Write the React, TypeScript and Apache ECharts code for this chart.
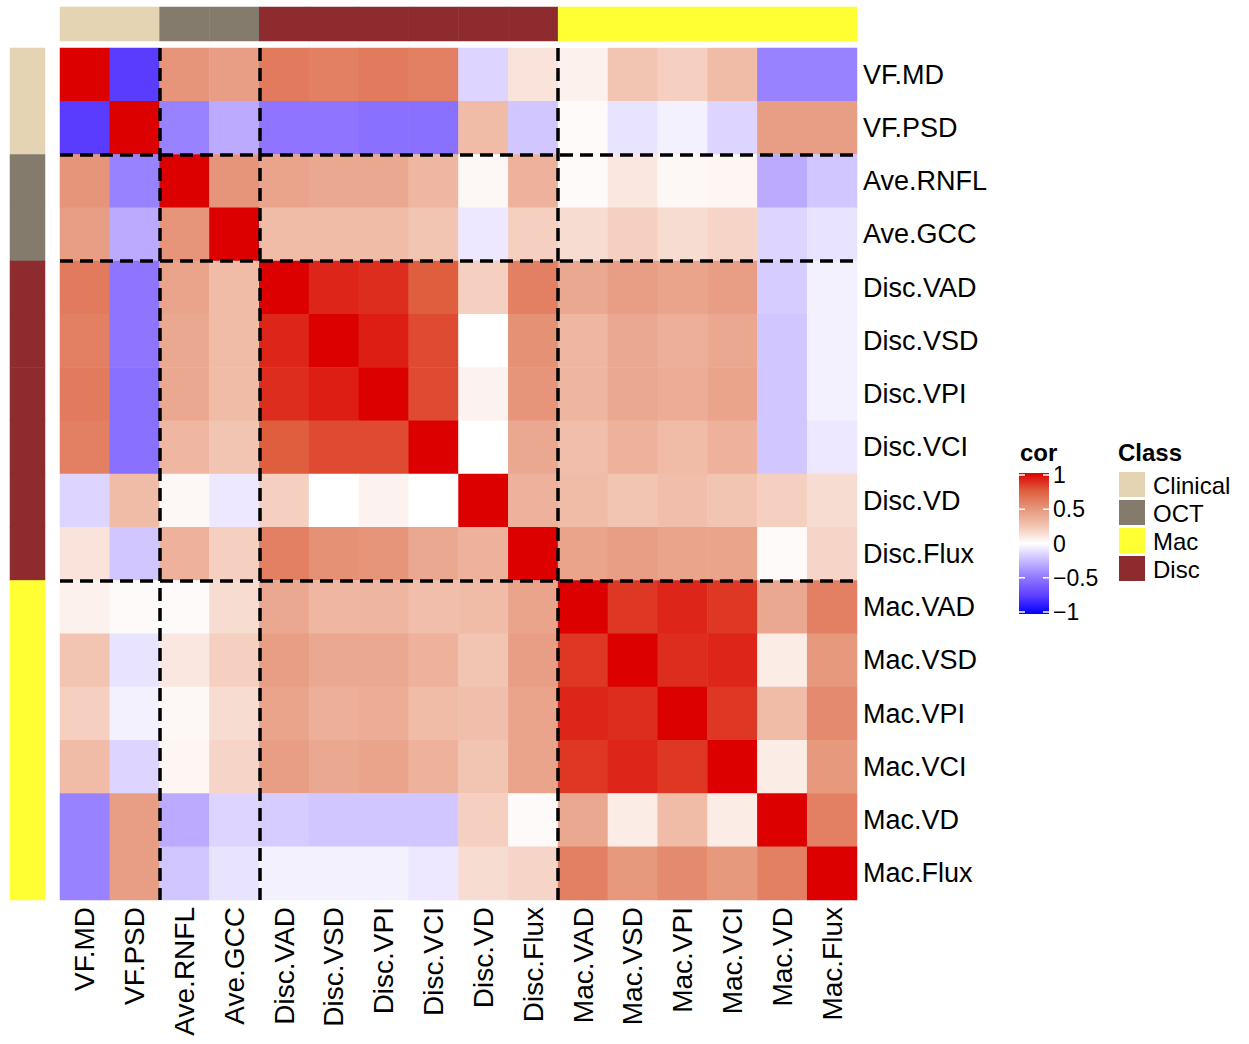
import React, { useEffect, useRef } from 'react';
import * as echarts from 'echarts';

// ---------- data ----------
const variables = [
  'VF.MD', 'VF.PSD', 'Ave.RNFL', 'Ave.GCC',
  'Disc.VAD', 'Disc.VSD', 'Disc.VPI', 'Disc.VCI', 'Disc.VD', 'Disc.Flux',
  'Mac.VAD', 'Mac.VSD', 'Mac.VPI', 'Mac.VCI', 'Mac.VD', 'Mac.Flux',
];
const variableClass = [
  'Clinical', 'Clinical', 'OCT', 'OCT',
  'Disc', 'Disc', 'Disc', 'Disc', 'Disc', 'Disc',
  'Mac', 'Mac', 'Mac', 'Mac', 'Mac', 'Mac',
];
const classNames = ['Clinical', 'OCT', 'Mac', 'Disc'];
const classColors = ['#E4D4B4', '#857B6C', '#FFFF33', '#8E2B2E'];

const corStops = [-1, -0.75, -0.5, -0.25, 0, 0.25, 0.5, 0.75, 1];
const corColors = ['#0000FF', '#5A3CFF', '#8E74FF', '#C6B8FF', '#FFFFFF', '#F2C4B2', '#E6957A', '#DE5E3E', '#DD0000'];
const corTicks = [1, 0.5, 0, -0.5, -1];
const groupBoundaries = [2, 4, 10];

const rowVFMD = [1, -0.75, 0.5, 0.45, 0.62, 0.6, 0.62, 0.6, -0.15, 0.12, 0.06, 0.25, 0.2, 0.3, -0.45, -0.45];
const rowVFPSD = [-0.75, 1, -0.45, -0.3, -0.5, -0.5, -0.52, -0.52, 0.3, -0.2, 0.02, -0.1, -0.05, -0.15, 0.45, 0.45];
const rowAveRNFL = [0.5, -0.45, 1, 0.5, 0.42, 0.4, 0.4, 0.32, 0.03, 0.35, 0.02, 0.1, 0.03, 0.04, -0.3, -0.2];
const rowAveGCC = [0.45, -0.3, 0.5, 1, 0.3, 0.3, 0.3, 0.25, -0.08, 0.2, 0.15, 0.2, 0.15, 0.18, -0.15, -0.1];
const rowDiscVAD = [0.62, -0.5, 0.42, 0.3, 1, 0.9, 0.88, 0.75, 0.2, 0.6, 0.4, 0.45, 0.42, 0.45, -0.18, -0.05];
const rowDiscVSD = [0.6, -0.5, 0.4, 0.3, 0.9, 1, 0.92, 0.8, 0.0, 0.52, 0.32, 0.4, 0.36, 0.4, -0.2, -0.05];
const rowDiscVPI = [0.62, -0.52, 0.4, 0.3, 0.88, 0.92, 1, 0.8, 0.05, 0.5, 0.33, 0.4, 0.38, 0.42, -0.2, -0.05];
const rowDiscVCI = [0.6, -0.52, 0.32, 0.25, 0.75, 0.8, 0.8, 1, 0.0, 0.4, 0.28, 0.35, 0.3, 0.35, -0.2, -0.08];
const rowDiscVD = [-0.15, 0.3, 0.03, -0.08, 0.2, 0.0, 0.05, 0.0, 1, 0.35, 0.3, 0.25, 0.28, 0.25, 0.2, 0.15];
const rowDiscFlux = [0.12, -0.2, 0.35, 0.2, 0.6, 0.52, 0.5, 0.4, 0.35, 1, 0.42, 0.45, 0.42, 0.42, 0.02, 0.18];
const rowMacVAD = [0.06, 0.02, 0.02, 0.15, 0.4, 0.32, 0.33, 0.28, 0.3, 0.42, 1, 0.85, 0.9, 0.85, 0.4, 0.6];
const rowMacVSD = [0.25, -0.1, 0.1, 0.2, 0.45, 0.4, 0.4, 0.35, 0.25, 0.45, 0.85, 1, 0.88, 0.9, 0.08, 0.48];
const rowMacVPI = [0.2, -0.05, 0.03, 0.15, 0.42, 0.36, 0.38, 0.3, 0.28, 0.42, 0.9, 0.88, 1, 0.85, 0.3, 0.55];
const rowMacVCI = [0.3, -0.15, 0.04, 0.18, 0.45, 0.4, 0.42, 0.35, 0.25, 0.42, 0.85, 0.9, 0.85, 1, 0.08, 0.48];
const rowMacVD = [-0.45, 0.45, -0.3, -0.15, -0.18, -0.2, -0.2, -0.2, 0.2, 0.02, 0.4, 0.08, 0.3, 0.08, 1, 0.6];
const rowMacFlux = [-0.45, 0.45, -0.2, -0.1, -0.05, -0.05, -0.05, -0.08, 0.15, 0.18, 0.6, 0.48, 0.55, 0.48, 0.6, 1];

const corRows = [
  rowVFMD, rowVFPSD, rowAveRNFL, rowAveGCC,
  rowDiscVAD, rowDiscVSD, rowDiscVPI, rowDiscVCI, rowDiscVD, rowDiscFlux,
  rowMacVAD, rowMacVSD, rowMacVPI, rowMacVCI, rowMacVD, rowMacFlux,
];

const FONT = "'Liberation Sans', Arial, Helvetica, sans-serif";

export default function App() {
  const ref = useRef<HTMLDivElement>(null);

  useEffect(() => {
    document.body.style.margin = '0';
    const chart = echarts.init(ref.current!, null, { renderer: 'svg' });

    const n = variables.length;
    const heatData: number[][] = [];
    corRows.forEach((row, r) => row.forEach((v, c) => heatData.push([c, r, v])));
    const topData = variableClass.map((cl, i) => [i, 0, classNames.indexOf(cl)]);
    const leftData = variableClass.map((cl, i) => [0, i, classNames.indexOf(cl)]);

    const mainGrid = { left: 60, top: 48, width: 797, height: 852 };

    // legend geometry
    const barX = 1019, barTop = 473, barW = 30, barH = 141;
    const tickTop = 475, tickBottom = 612;
    const tickY = (v: number) => tickTop + ((1 - v) / 2) * (tickBottom - tickTop);

    const graphics: any[] = [
      { type: 'text', left: 1020, top: 440, style: { text: 'cor', font: `bold 24px ${FONT}`, fill: '#000' } },
      {
        type: 'rect',
        shape: { x: barX, y: barTop, width: barW, height: barH },
        style: {
          fill: new echarts.graphic.LinearGradient(0, 0, 0, 1,
            corStops.map((s, i) => ({ offset: (1 - s) / 2, color: corColors[i] })).reverse()),
        },
      },
    ];
    corTicks.forEach((t) => {
      const y = tickY(t);
      graphics.push({ type: 'line', shape: { x1: barX, y1: y, x2: barX + 6, y2: y }, style: { stroke: '#fff', lineWidth: 1.5 } });
      graphics.push({ type: 'line', shape: { x1: barX + barW - 6, y1: y, x2: barX + barW, y2: y }, style: { stroke: '#fff', lineWidth: 1.5 } });
      graphics.push({
        type: 'text', x: barX + barW + 4, y,
        style: { text: t < 0 ? '\u2212' + Math.abs(t) : String(t), font: `23px ${FONT}`, fill: '#000', verticalAlign: 'middle', align: 'left' },
      });
    });
    graphics.push({ type: 'text', left: 1118, top: 440, style: { text: 'Class', font: `bold 24px ${FONT}`, fill: '#000' } });
    classNames.forEach((cn, i) => {
      const y = 472 + i * 28;
      graphics.push({ type: 'rect', shape: { x: 1119, y, width: 26, height: 25 }, style: { fill: classColors[i] } });
      graphics.push({ type: 'text', x: 1153, y: y + 13, style: { text: cn, font: `24px ${FONT}`, fill: '#000', verticalAlign: 'middle' } });
    });

    const dashStyle = { type: [13, 7], width: 3.5, color: '#000', opacity: 1 };

    const option: any = {
      animation: false,
      backgroundColor: '#fff',
      textStyle: { fontFamily: FONT },
      grid: [
        { ...mainGrid },
        { left: 60, top: 7, width: 797, height: 34 },
        { left: 10, top: 48, width: 35, height: 852 },
        { ...mainGrid },
      ],
      xAxis: [
        {
          type: 'category', gridIndex: 0, data: variables,
          axisLine: { show: false }, axisTick: { show: false }, splitLine: { show: false },
          axisLabel: { rotate: 90, fontSize: 28, color: '#000', fontFamily: FONT, margin: 7, interval: 0 },
        },
        { type: 'category', gridIndex: 1, data: variables, show: false },
        { type: 'category', gridIndex: 2, data: ['Class'], show: false },
        { type: 'value', gridIndex: 3, min: 0, max: n, show: false },
      ],
      yAxis: [
        {
          type: 'category', gridIndex: 0, data: variables, inverse: true, position: 'right',
          axisLine: { show: false }, axisTick: { show: false }, splitLine: { show: false },
          axisLabel: { fontSize: 27, color: '#000', fontFamily: FONT, margin: 6, interval: 0 },
        },
        { type: 'category', gridIndex: 1, data: ['Class'], show: false },
        { type: 'category', gridIndex: 2, data: variables, inverse: true, show: false },
        { type: 'value', gridIndex: 3, min: 0, max: n, inverse: true, show: false },
      ],
      visualMap: [
        {
          type: 'continuous', show: false, seriesIndex: 0, dimension: 2,
          min: -1, max: 1, inRange: { color: corColors },
        },
        {
          type: 'piecewise', show: false, seriesIndex: [1, 2], dimension: 2,
          pieces: classNames.map((cn, i) => ({ value: i, label: cn, color: classColors[i] })),
        },
      ],
      series: [
        {
          type: 'heatmap', xAxisIndex: 0, yAxisIndex: 0, data: heatData,
          emphasis: { disabled: true }, silent: true,
        },
        {
          type: 'heatmap', xAxisIndex: 1, yAxisIndex: 1, data: topData,
          emphasis: { disabled: true }, silent: true,
        },
        {
          type: 'heatmap', xAxisIndex: 2, yAxisIndex: 2, data: leftData,
          emphasis: { disabled: true }, silent: true,
        },
        {
          type: 'line', xAxisIndex: 3, yAxisIndex: 3, z: 10, silent: true,
          data: [[0, 0], [n, n]], showSymbol: false, lineStyle: { opacity: 0 },
          markLine: {
            silent: true, symbol: ['none', 'none'], label: { show: false },
            lineStyle: dashStyle,
            emphasis: { disabled: true },
            data: [
              ...groupBoundaries.map((b) => ({ xAxis: b, lineStyle: dashStyle })),
              ...groupBoundaries.map((b) => ({ yAxis: b, lineStyle: dashStyle })),
            ],
          },
        },
      ],
      graphic: graphics,
    };

    chart.setOption(option);
    return () => chart.dispose();
  }, []);

  return <div ref={ref} style={{ width: 1249, height: 1044 }} />;
}
